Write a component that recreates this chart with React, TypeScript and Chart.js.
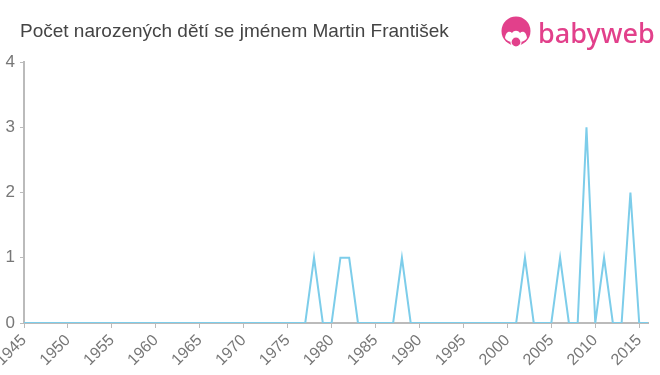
import React, { useEffect, useRef } from "react";
import { Chart, registerables } from "chart.js";

Chart.register(...registerables);

const years = [
  1945, 1946, 1947, 1948, 1949, 1950, 1951, 1952, 1953, 1954,
  1955, 1956, 1957, 1958, 1959, 1960, 1961, 1962, 1963, 1964,
  1965, 1966, 1967, 1968, 1969, 1970, 1971, 1972, 1973, 1974,
  1975, 1976, 1977, 1978, 1979, 1980, 1981, 1982, 1983, 1984,
  1985, 1986, 1987, 1988, 1989, 1990, 1991, 1992, 1993, 1994,
  1995, 1996, 1997, 1998, 1999, 2000, 2001, 2002, 2003, 2004,
  2005, 2006, 2007, 2008, 2009, 2010, 2011, 2012, 2013, 2014,
  2015, 2016,
];

const births = [
  0, 0, 0, 0, 0, 0, 0, 0, 0, 0,
  0, 0, 0, 0, 0, 0, 0, 0, 0, 0,
  0, 0, 0, 0, 0, 0, 0, 0, 0, 0,
  0, 0, 0, 1, 0, 0, 1, 1, 0, 0,
  0, 0, 0, 1, 0, 0, 0, 0, 0, 0,
  0, 0, 0, 0, 0, 0, 0, 1, 0, 0,
  0, 1, 0, 0, 3, 0, 1, 0, 0, 2,
  0, 0,
];

const xTickYears = [
  1945, 1950, 1955, 1960, 1965, 1970, 1975, 1980, 1985, 1990, 1995, 2000,
  2005, 2010, 2015,
];

const yTicks = [0, 1, 2, 3, 4];

const TITLE = "Počet narozených dětí se jménem Martin František";
const LOGO_TEXT = "babyweb";

export default function App() {
  const canvasRef = useRef<HTMLCanvasElement | null>(null);

  useEffect(() => {
    const canvas = canvasRef.current;
    if (!canvas) return;
    const axisColor = "#bbbbbb";
    const chart = new Chart(canvas, {
      type: "line",
      data: {
        datasets: [
          {
            data: years.map((y, i) => ({ x: y, y: births[i] })),
            borderColor: "#7dcdea",
            borderWidth: 2,
            pointRadius: 0,
            tension: 0,
            fill: false,
          },
        ],
      },
      options: {
        responsive: false,
        animation: false,
        layout: { padding: { left: 0, right: 12, top: 62, bottom: 0 } },
        plugins: {
          legend: { display: false },
          tooltip: { enabled: false },
          title: { display: false },
        },
        scales: {
          x: {
            type: "linear",
            min: 1945,
            max: 2016,
            afterBuildTicks: (scale: any) => {
              scale.ticks = xTickYears.map((v) => ({ value: v }));
            },
            afterFit: (scale: any) => {
              scale.height = 52;
              scale.paddingLeft = 0;
              scale.paddingRight = 0;
            },
            grid: {
              drawOnChartArea: false,
              drawTicks: true,
              tickLength: 5,
              color: axisColor,
            },
            border: { color: axisColor, width: 2 },
            ticks: {
              autoSkip: false,
              maxRotation: 45,
              minRotation: 45,
              padding: 3,
              color: "#777777",
              font: { size: 16, family: "'Liberation Sans', Arial, sans-serif" },
              callback: (v: any) => String(v),
            },
          },
          y: {
            min: 0,
            max: 4,
            afterBuildTicks: (scale: any) => {
              scale.ticks = yTicks.map((v) => ({ value: v }));
            },
            afterFit: (scale: any) => {
              scale.width = 24;
              scale.paddingTop = 0;
              scale.paddingBottom = 0;
            },
            grid: {
              drawOnChartArea: false,
              drawTicks: true,
              tickLength: 4,
              color: axisColor,
            },
            border: { color: axisColor, width: 2 },
            ticks: {
              padding: 5,
              color: "#777777",
              font: { size: 17, family: "'Liberation Sans', Arial, sans-serif" },
            },
          },
        },
      },
    });
    return () => chart.destroy();
  }, []);

  return (
    <div
      style={{
        position: "fixed",
        left: 0,
        top: 0,
        width: 660,
        height: 375,
        background: "#ffffff",
        overflow: "hidden",
      }}
    >
      <canvas
        ref={canvasRef}
        width={660}
        height={375}
        style={{ position: "absolute", left: 0, top: 0, width: 660, height: 375 }}
      />
      <div
        style={{
          position: "absolute",
          left: 20,
          top: 19,
          fontFamily: "'Liberation Sans', Arial, sans-serif",
          fontSize: 19,
          color: "#444444",
          whiteSpace: "nowrap",
          lineHeight: "24px",
        }}
      >
        {TITLE}
      </div>
      <div
        style={{
          position: "absolute",
          left: 500,
          top: 16,
          display: "flex",
          alignItems: "center",
          height: 34,
        }}
      >
        <svg width="32" height="34" viewBox="0 0 32 34">
          <circle cx="16" cy="15" r="14.5" fill="#e2408b" />
          <path
            d="M5 22 C6 15 10 15 12 17 C14 14 18 14 20 17 C22 15 26 15 27 22 C24 28 8 28 5 22 Z"
            fill="#ffffff"
          />
          <circle cx="16" cy="26" r="5" fill="#e2408b" />
          <circle cx="16" cy="26" r="5" fill="none" stroke="#ffffff" strokeWidth="1.2" />
        </svg>
        <span
          style={{
            marginLeft: 6,
            fontFamily: "'Noto Sans', 'Open Sans', Arial, sans-serif",
            fontSize: 27,
            fontWeight: 500,
            color: "#e2408b",
            lineHeight: "34px",
            letterSpacing: 0,
          }}
        >
          {LOGO_TEXT}
        </span>
      </div>
    </div>
  );
}
